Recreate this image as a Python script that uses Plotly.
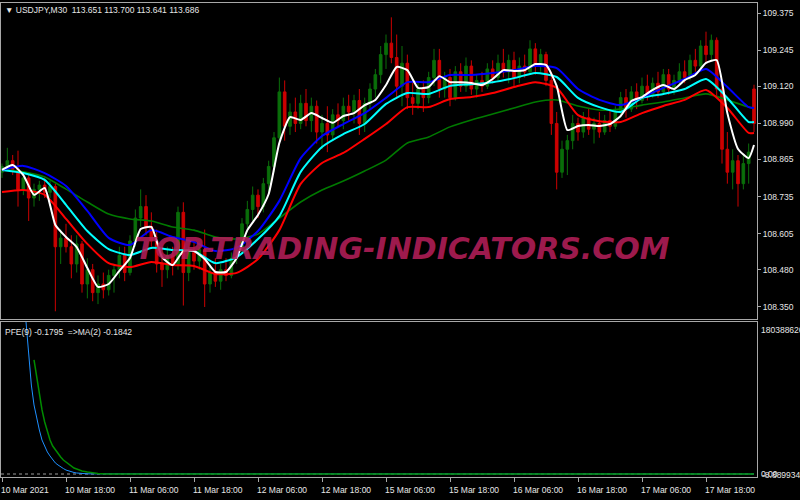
import plotly.graph_objects as go

# ---- USDJPY hourly bars (index 0 = 10 Mar 2021 06:00) ----
opens = [
    108.820, 108.840, 108.860, 108.830, 108.760, 108.800, 108.730, 108.760, 108.775, 108.750,
    108.770, 108.560, 108.590, 108.560, 108.500, 108.570, 108.430, 108.480, 108.400, 108.430,
    108.410, 108.460, 108.480, 108.530, 108.470, 108.580, 108.660, 108.700, 108.630, 108.580,
    108.500, 108.480, 108.530, 108.500, 108.680, 108.470, 108.540, 108.510, 108.550, 108.430,
    108.470, 108.440, 108.480, 108.460, 108.520, 108.560, 108.640, 108.690, 108.740, 108.700,
    108.780, 108.840, 108.940, 109.100, 108.980, 109.030, 108.990, 109.060, 109.000, 109.050,
    108.960, 108.990, 108.950, 109.020, 109.000, 109.050, 109.030, 109.070, 108.990, 109.060,
    109.110, 109.160, 109.230, 109.270, 109.220, 109.120, 109.200, 109.080, 109.060, 109.110,
    109.080, 109.150, 109.210, 109.110, 109.150, 109.080, 109.170, 109.120, 109.190, 109.110,
    109.140, 109.120, 109.180, 109.150, 109.200, 109.170, 109.210, 109.150, 109.190, 109.170,
    109.250, 109.190, 109.230, 109.140, 108.990, 108.820, 108.900, 108.930, 108.990, 108.960,
    109.010, 108.970, 108.990, 108.960, 109.000, 108.980, 109.030, 109.080, 109.040, 109.100,
    109.070, 109.120, 109.090, 109.130, 109.100, 109.160, 109.110, 109.140, 109.170, 109.150,
    109.210, 109.190, 109.260, 109.230, 109.280, 109.110, 108.900, 108.820, 108.860, 108.780,
    108.850, 109.110,
]
highs = [
    108.850, 108.905, 108.880, 108.895, 108.820, 108.810, 108.780, 108.790, 108.800, 108.790,
    108.780, 108.620, 108.640, 108.600, 108.600, 108.580, 108.520, 108.500, 108.460, 108.470,
    108.480, 108.500, 108.560, 108.560, 108.600, 108.690, 108.760, 108.740, 108.680, 108.620,
    108.540, 108.560, 108.560, 108.700, 108.715, 108.560, 108.580, 108.560, 108.620, 108.500,
    108.520, 108.500, 108.520, 108.540, 108.580, 108.660, 108.720, 108.770, 108.760, 108.800,
    108.860, 108.960, 109.150, 109.140, 109.060, 109.080, 109.090, 109.110, 109.080, 109.070,
    109.020, 109.050, 109.040, 109.060, 109.080, 109.090, 109.090, 109.110, 109.080, 109.130,
    109.180, 109.260, 109.300, 109.360, 109.300, 109.260, 109.230, 109.140, 109.130, 109.140,
    109.170, 109.250, 109.250, 109.170, 109.180, 109.190, 109.200, 109.220, 109.210, 109.160,
    109.170, 109.200, 109.210, 109.230, 109.250, 109.230, 109.240, 109.220, 109.230, 109.280,
    109.270, 109.250, 109.240, 109.170, 109.030, 108.930, 108.950, 109.020, 109.010, 109.030,
    109.040, 109.010, 109.030, 109.020, 109.040, 109.050, 109.100, 109.110, 109.120, 109.130,
    109.150, 109.160, 109.150, 109.170, 109.180, 109.180, 109.160, 109.200, 109.210, 109.230,
    109.250, 109.280, 109.310, 109.300, 109.290, 109.130, 108.960, 108.900, 108.880, 108.880,
    108.920, 109.125,
]
lows = [
    108.800, 108.825, 108.810, 108.700, 108.740, 108.650, 108.700, 108.720, 108.730, 108.730,
    108.335, 108.500, 108.540, 108.450, 108.470, 108.400, 108.380, 108.370, 108.360, 108.380,
    108.390, 108.400, 108.450, 108.440, 108.460, 108.560, 108.630, 108.600, 108.560, 108.470,
    108.420, 108.450, 108.460, 108.480, 108.355, 108.440, 108.480, 108.480, 108.350, 108.400,
    108.420, 108.410, 108.440, 108.450, 108.500, 108.540, 108.610, 108.650, 108.660, 108.680,
    108.740, 108.820, 108.920, 108.930, 108.950, 108.960, 108.970, 108.980, 108.960, 108.920,
    108.900, 108.890, 108.930, 108.980, 108.970, 109.000, 108.990, 108.950, 108.960, 109.040,
    109.080, 109.130, 109.180, 109.200, 109.080, 109.050, 109.040, 109.020, 109.040, 109.030,
    109.060, 109.120, 109.080, 109.080, 109.050, 109.070, 109.100, 109.100, 109.090, 109.080,
    109.100, 109.110, 109.130, 109.140, 109.150, 109.130, 109.120, 109.130, 109.150, 109.160,
    109.160, 109.170, 109.120, 108.950, 108.760, 108.800, 108.810, 108.900, 108.930, 108.940,
    108.950, 108.920, 108.940, 108.950, 108.960, 108.970, 109.010, 109.010, 109.030, 109.040,
    109.060, 109.070, 109.080, 109.080, 109.090, 109.090, 109.090, 109.120, 109.130, 109.140,
    109.170, 109.180, 109.200, 109.210, 109.080, 108.850, 108.780, 108.760, 108.700, 108.760,
    108.780, 108.960,
]
closes = [
    108.840, 108.860, 108.830, 108.760, 108.800, 108.730, 108.760, 108.775, 108.750, 108.770,
    108.560, 108.590, 108.560, 108.500, 108.570, 108.430, 108.480, 108.400, 108.430, 108.410,
    108.460, 108.480, 108.530, 108.470, 108.580, 108.660, 108.700, 108.630, 108.580, 108.500,
    108.480, 108.530, 108.500, 108.680, 108.470, 108.540, 108.510, 108.550, 108.430, 108.470,
    108.440, 108.480, 108.460, 108.520, 108.560, 108.640, 108.690, 108.740, 108.700, 108.780,
    108.840, 108.940, 109.100, 108.980, 109.030, 108.990, 109.060, 109.000, 109.050, 108.960,
    108.990, 108.950, 109.020, 109.000, 109.050, 109.030, 109.070, 108.990, 109.060, 109.110,
    109.160, 109.230, 109.270, 109.220, 109.120, 109.200, 109.080, 109.060, 109.110, 109.080,
    109.150, 109.210, 109.110, 109.150, 109.080, 109.170, 109.120, 109.190, 109.110, 109.140,
    109.120, 109.180, 109.150, 109.200, 109.170, 109.210, 109.150, 109.190, 109.170, 109.250,
    109.190, 109.230, 109.140, 108.990, 108.820, 108.900, 108.930, 108.990, 108.960, 109.010,
    108.970, 108.990, 108.960, 109.000, 108.980, 109.030, 109.080, 109.040, 109.100, 109.070,
    109.120, 109.090, 109.130, 109.100, 109.160, 109.110, 109.140, 109.170, 109.150, 109.210,
    109.190, 109.260, 109.230, 109.280, 109.110, 108.900, 108.820, 108.860, 108.780, 108.850,
    108.890, 108.990,
]

# ---- moving averages drawn on the price chart ----
white_bars = list(range(0, 141, 2)) + [141]
white_ma = [
    108.828, 108.845, 108.810, 108.741, 108.765, 108.636, 108.594, 108.559, 108.486, 108.420,
    108.430, 108.476, 108.521, 108.622, 108.629, 108.524, 108.496, 108.545, 108.545, 108.517,
    108.472, 108.472, 108.521, 108.618, 108.671, 108.744, 108.922, 109.012, 109.002, 109.026,
    109.009, 108.992, 109.016, 109.026, 109.054, 109.072, 109.124, 109.187, 109.176, 109.114,
    109.117, 109.155, 109.134, 109.134, 109.131, 109.124, 109.145, 109.176, 109.173, 109.176,
    109.197, 109.194, 109.121, 108.967, 108.981, 108.985, 108.981, 108.988, 109.016, 109.068,
    109.082, 109.107, 109.124, 109.110, 109.141, 109.159, 109.201, 109.211, 109.026, 108.901,
    108.869, 108.915,
]
ma_bars = list(range(0, 141, 4)) + [141]
blue_ma = [
    108.828, 108.842, 108.817, 108.772, 108.685, 108.591, 108.566, 108.618, 108.594, 108.577,
    108.545, 108.556, 108.615, 108.720, 108.869, 108.946, 108.988, 109.026, 109.079, 109.134,
    109.134, 109.159, 109.159, 109.166, 109.176, 109.190, 109.183, 109.110, 109.072, 109.054,
    109.082, 109.114, 109.145, 109.180, 109.117, 109.047, 109.044,
]
cyan_ma = [
    108.828, 108.817, 108.793, 108.706, 108.615, 108.552, 108.531, 108.556, 108.549, 108.545,
    108.503, 108.524, 108.587, 108.667, 108.821, 108.908, 108.953, 108.988, 109.058, 109.096,
    109.093, 109.121, 109.127, 109.134, 109.148, 109.166, 109.152, 109.079, 109.047, 109.030,
    109.079, 109.093, 109.110, 109.145, 109.079, 108.995, 108.995,
]
red_ma = [
    108.751, 108.758, 108.741, 108.657, 108.570, 108.503, 108.489, 108.507, 108.496, 108.493,
    108.465, 108.469, 108.517, 108.618, 108.779, 108.852, 108.887, 108.936, 108.988, 109.047,
    109.047, 109.075, 109.082, 109.096, 109.117, 109.134, 109.114, 109.019, 108.998, 108.995,
    109.026, 109.051, 109.072, 109.107, 109.044, 108.957, 108.957,
]
green_ma = [
    108.831, 108.821, 108.803, 108.761, 108.716, 108.674, 108.657, 108.650, 108.629, 108.618,
    108.594, 108.587, 108.604, 108.660, 108.716, 108.758, 108.789, 108.824, 108.862, 108.922,
    108.943, 108.978, 109.002, 109.023, 109.044, 109.065, 109.072, 109.051, 109.037, 109.040,
    109.054, 109.065, 109.079, 109.093, 109.072, 109.047, 109.044,
]

# ---- PFE(9) sub-window ----
pfe_bars = [4.5, 5, 5.5, 6, 6.5, 7, 7.5, 8, 8.5, 9, 9.5, 10, 10.5, 11, 11.5, 12,
            12.5, 13, 13.5, 14, 14.5, 15, 16, 141]
pfe_vals = [180388626, 1.448e8, 1.056e8, 8.19e7, 6.65e7, 5.22e7, 4.03e7, 3.20e7,
            2.61e7, 2.14e7, 1.66e7, 1.31e7, 1.07e7, 8.3e6, 6.5e6, 4.7e6,
            3.6e6, 2.4e6, 1.8e6, 1.2e6, 8e5, 5e5, 2e5, -0.1795]
pfe_ma_bars = [6, 6.5, 7, 7.5, 8, 8.5, 9, 9.5, 10, 10.5, 11, 11.5, 12, 12.5, 13,
               13.5, 14, 15, 16, 17, 18, 19.5, 141]
pfe_ma_vals = [1.353e8, 1.139e8, 9.61e7, 7.60e7, 6.17e7, 4.98e7, 4.03e7, 3.32e7,
               2.85e7, 2.37e7, 2.02e7, 1.66e7, 1.42e7, 1.19e7, 9.5e6, 7.1e6,
               5.9e6, 3.6e6, 2.4e6, 1.2e6, 6e5, 1e5, -0.1842]

# ---- axes ----
time_ticks = [0, 12, 24, 36, 48, 60, 72, 84, 96, 108, 120, 132]
time_labels = ["10 Mar 2021", "10 Mar 18:00", "11 Mar 06:00", "11 Mar 18:00",
               "12 Mar 06:00", "12 Mar 18:00", "15 Mar 06:00", "15 Mar 18:00",
               "16 Mar 06:00", "16 Mar 18:00", "17 Mar 06:00", "17 Mar 18:00"]
price_ticks = [108.350, 108.480, 108.605, 108.735, 108.865, 108.990, 109.120, 109.245, 109.375]

FONT = "Liberation Sans"
TXT = "#e6e6e6"
FRAME = "#a8a8a8"

# page pixel -> paper coords (plot area 1..757 x 3..477)
def px(x):
    return (x - 1) / 756

def py(y):
    return (477 - y) / 474

bars = list(range(len(closes)))
fig = go.Figure()

fig.add_trace(go.Candlestick(
    x=bars, open=opens, high=highs, low=lows, close=closes,
    increasing=dict(line=dict(color="#0a6e0a", width=1), fillcolor="#0a6e0a"),
    decreasing=dict(line=dict(color="#cc0000", width=1), fillcolor="#cc0000"),
    whiskerwidth=0, showlegend=False, hoverinfo="skip",
))

for vals, col, w in [(green_ma, "#007a00", 1.6), (red_ma, "#ff0000", 2),
                     (cyan_ma, "#00ffff", 2), (blue_ma, "#0000ff", 2)]:
    fig.add_trace(go.Scatter(
        x=ma_bars, y=vals, mode="lines",
        line=dict(color=col, width=w, shape="spline", smoothing=0.6),
        showlegend=False, hoverinfo="skip",
    ))
fig.add_trace(go.Scatter(
    x=white_bars, y=white_ma, mode="lines",
    line=dict(color="#ffffff", width=2, shape="spline", smoothing=0.5),
    showlegend=False, hoverinfo="skip",
))

fig.add_trace(go.Scatter(
    x=pfe_bars, y=pfe_vals, mode="lines", xaxis="x2", yaxis="y2",
    line=dict(color="#1e90ff", width=1), showlegend=False, hoverinfo="skip",
))
fig.add_trace(go.Scatter(
    x=pfe_ma_bars, y=pfe_ma_vals, mode="lines", xaxis="x2", yaxis="y2",
    line=dict(color="#008c00", width=1.5), showlegend=False, hoverinfo="skip",
))

xr = [-0.19, 141.56]
fig.update_layout(
    width=800, height=500,
    margin=dict(l=1, r=43, t=3, b=23),
    paper_bgcolor="#000000", plot_bgcolor="#000000",
    font=dict(family=FONT, size=8.5, color=TXT),
    xaxis=dict(domain=[0, 1], anchor="y", range=xr, showticklabels=False,
               showgrid=False, zeroline=False, showline=True, mirror=True,
               linecolor=FRAME, linewidth=1, rangeslider=dict(visible=False)),
    yaxis=dict(domain=[0.3333, 1], anchor="x", side="right", range=[108.308, 109.410],
               tickvals=price_ticks, tickformat=".3f", ticks="outside", ticklen=3,
               tickcolor=FRAME, showgrid=False, zeroline=False, showline=True,
               mirror=True, linecolor=FRAME, linewidth=1,
               tickfont=dict(family=FONT, size=8.5, color=TXT)),
    xaxis2=dict(domain=[0, 1], anchor="y2", range=xr, tickvals=time_ticks,
                ticktext=[""] * len(time_ticks), ticks="outside", ticklen=4,
                tickcolor=FRAME, showgrid=False, zeroline=False, showline=True,
                mirror=True, linecolor=FRAME, linewidth=1),
    yaxis2=dict(domain=[0, 0.327], anchor="x2", side="right",
                range=[-3.56e6, 180388626], showticklabels=False, ticks="",
                showgrid=False, zeroline=False, showline=True, mirror=True,
                linecolor=FRAME, linewidth=1),
)

fig.add_shape(type="line", xref="paper", x0=0, x1=1, yref="y2", y0=0, y1=0,
              line=dict(color="#9a9a9a", width=1, dash="dot"), layer="below")

ann = dict(showarrow=False, xref="paper", yref="paper", borderpad=0,
           font=dict(family=FONT, size=8.5, color=TXT))
fig.add_annotation(text="\u25bc USDJPY,M30  113.651 113.700 113.641 113.686",
                   x=px(4), y=py(10), xanchor="left", yanchor="middle", **ann)
fig.add_annotation(text="PFE(9) -0.1795  =>MA(2) -0.1842",
                   x=px(4), y=py(332), xanchor="left", yanchor="middle", **ann)
# MT4 prints the sub-window scale at the right edge; the two bottom values overlap there
fig.add_annotation(text="180388626", x=px(760), y=py(330),
                   xanchor="left", yanchor="middle", **ann)
fig.add_annotation(text="-8.8899346", x=px(761), y=py(475),
                   xanchor="left", yanchor="middle", **ann)
fig.add_annotation(text="0.00", x=px(760), y=py(474),
                   xanchor="left", yanchor="middle", **ann)

for tv, lab in zip(time_ticks, time_labels):
    fig.add_annotation(text=lab, x=tv, xref="x2", y=py(490), yref="paper",
                       xanchor="left", yanchor="middle", xshift=-2,
                       showarrow=False, borderpad=0,
                       font=dict(family=FONT, size=8.5, color=TXT))

fig.add_annotation(text="<b><i>TOP-TRADING-INDICATORS.COM</i></b>",
                   x=px(402), y=py(248), xref="paper", yref="paper",
                   xanchor="center", yanchor="middle", showarrow=False,
                   font=dict(family="DejaVu Sans", size=30,
                             color="rgba(180,30,88,0.88)"))

# the page body has a default 8px margin; drop it so the chart sits at 0,0
fig.write_html("out.html", config={"displayModeBar": False},
               post_script="document.body.style.margin='0';")
